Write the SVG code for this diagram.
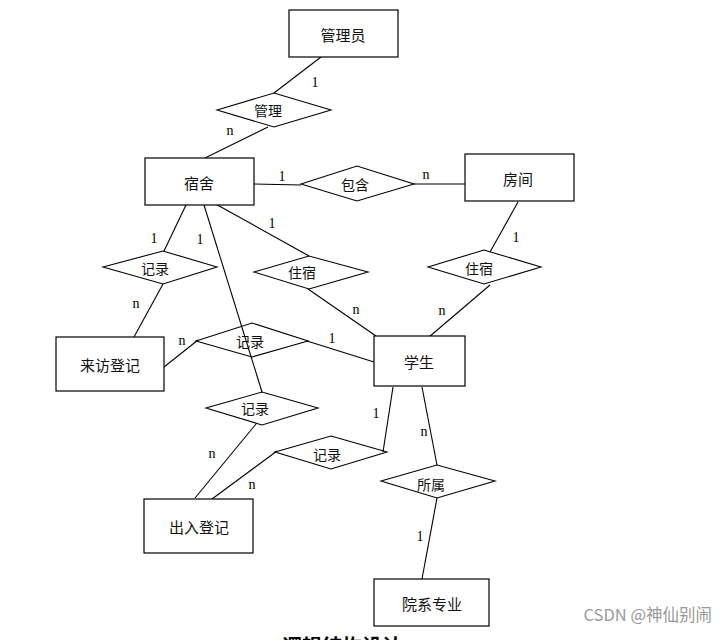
<svg xmlns="http://www.w3.org/2000/svg" width="728" height="640" viewBox="0 0 728 640">
<style>
.ent{fill:#fff;stroke:#000;stroke-width:1.2}
.rel{fill:none;stroke:#000;stroke-width:1.1}
.t{font-family:"Noto Sans CJK SC","Noto Sans",sans-serif;font-size:15px;fill:#111;text-anchor:middle;dominant-baseline:central}
.r{font-family:"Noto Sans CJK SC","Noto Sans",sans-serif;font-size:14px;fill:#111;text-anchor:middle;dominant-baseline:central}
.c{font-family:"Liberation Serif",serif;font-size:14px;fill:#000;text-anchor:middle;dominant-baseline:central}
#edges line{stroke:#000;stroke-width:1.1}
</style>
<rect width="728" height="640" fill="#fff"/>
<g id="edges">
<line x1="321" y1="57" x2="274" y2="93"/>
<line x1="268" y1="127" x2="205" y2="158"/>
<line x1="254" y1="184" x2="301" y2="185"/>
<line x1="414" y1="184" x2="465" y2="184"/>
<line x1="518" y1="202" x2="490" y2="252"/>
<line x1="490" y1="285" x2="429" y2="337"/>
<line x1="212" y1="202" x2="309" y2="256"/>
<line x1="308" y1="289" x2="376" y2="336"/>
<line x1="186" y1="205" x2="164" y2="251"/>
<line x1="163" y1="284" x2="134" y2="337"/>
<line x1="204" y1="205" x2="262" y2="392"/>
<line x1="164" y1="367" x2="198" y2="340"/>
<line x1="307" y1="341" x2="374" y2="362"/>
<line x1="256" y1="424" x2="195" y2="498"/>
<line x1="212" y1="499" x2="277" y2="451"/>
<line x1="383" y1="452" x2="393" y2="387"/>
<line x1="422" y1="387" x2="437" y2="465"/>
<line x1="437" y1="498" x2="422" y2="579"/>
</g>
<g id="n-admin"><rect class="ent" x="289" y="10" width="109" height="47"/><text class="t" x="343" y="34">管理员</text></g>
<g id="r-manage"><polygon class="rel" points="217,110 274,93 331,110 274,127"/><text class="r" x="268" y="110">管理</text></g>
<g id="n-dorm"><rect class="ent" x="145" y="158" width="109" height="47"/><text class="t" x="199" y="182">宿舍</text></g>
<g id="r-contain"><polygon class="rel" points="301,184 357,166 414,184 357,201"/><text class="r" x="355" y="184">包含</text></g>
<g id="n-room"><rect class="ent" x="465" y="154" width="109" height="47"/><text class="t" x="518" y="178">房间</text></g>
<g id="r-live2"><polygon class="rel" points="428,267 484,250 541,267 484,284"/><text class="r" x="479" y="268">住宿</text></g>
<g id="r-live1"><polygon class="rel" points="254,272 309,256 368,272 309,289"/><text class="r" x="302" y="272">住宿</text></g>
<g id="r-rec1"><polygon class="rel" points="103,267 163,251 217,267 163,284"/><text class="r" x="155" y="268">记录</text></g>
<g id="n-visit"><rect class="ent" x="56" y="337" width="108" height="54"/><text class="t" x="110" y="364">来访登记</text></g>
<g id="r-rec2"><polygon class="rel" points="196,341 252,323 308,341 252,357"/><text class="r" x="250" y="341">记录</text></g>
<g id="n-student"><rect class="ent" x="374" y="336" width="91" height="50"/><text class="t" x="419" y="361">学生</text></g>
<g id="r-rec3"><polygon class="rel" points="206,408 262,392 318,408 262,425"/><text class="r" x="255" y="408">记录</text></g>
<g id="r-rec4"><polygon class="rel" points="275,452 331,436 387,452 331,469"/><text class="r" x="327" y="454">记录</text></g>
<g id="r-belong"><polygon class="rel" points="381,481 437,465 495,481 437,498"/><text class="r" x="431" y="484">所属</text></g>
<g id="n-inout"><rect class="ent" x="144" y="499" width="109" height="54"/><text class="t" x="199" y="526">出入登记</text></g>
<g id="n-major"><rect class="ent" x="374" y="579" width="115" height="47"/><text class="t" x="432" y="603">院系专业</text></g>
<g id="labels">
<text class="c" x="315" y="82">1</text>
<text class="c" x="230" y="130">n</text>
<text class="c" x="282" y="176">1</text>
<text class="c" x="426" y="174">n</text>
<text class="c" x="516" y="237">1</text>
<text class="c" x="442" y="310">n</text>
<text class="c" x="272" y="223">1</text>
<text class="c" x="356" y="309">n</text>
<text class="c" x="154" y="238">1</text>
<text class="c" x="200" y="239">1</text>
<text class="c" x="136" y="303">n</text>
<text class="c" x="182" y="340">n</text>
<text class="c" x="332" y="338">1</text>
<text class="c" x="212" y="453">n</text>
<text class="c" x="252" y="484">n</text>
<text class="c" x="376" y="413">1</text>
<text class="c" x="424" y="431">n</text>
<text class="c" x="420" y="536">1</text>
</g>
<text x="342" y="654" font-family="'Noto Sans CJK SC',sans-serif" font-size="20" font-weight="bold" text-anchor="middle" fill="#000">逻辑结构设计</text>
<text x="712" y="621" font-family="'Noto Sans CJK SC',sans-serif" font-size="16.5" text-anchor="end" fill="#999">CSDN @神仙别闹</text>
</svg>
